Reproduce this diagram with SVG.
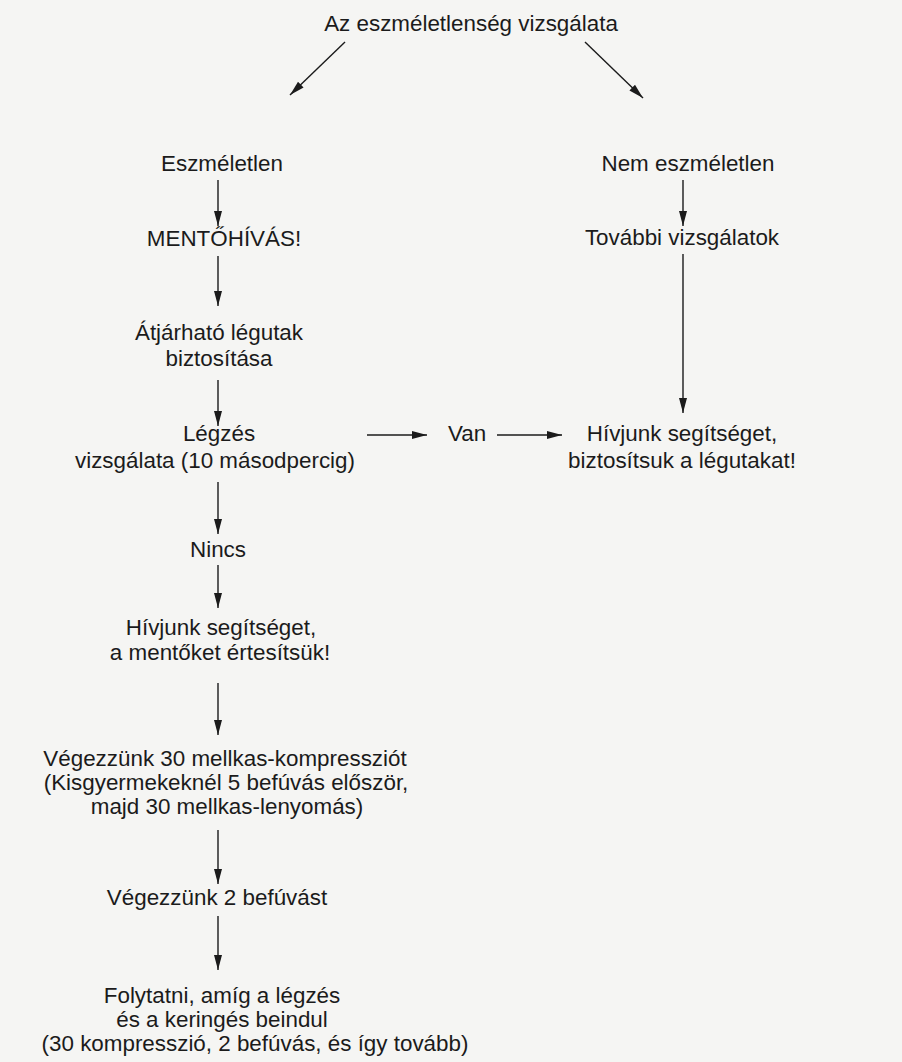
<svg xmlns="http://www.w3.org/2000/svg" width="902" height="1062" viewBox="0 0 902 1062">
  <style>
    .t { font-family: "Liberation Sans", Arial, sans-serif; font-size: 22.4px; fill: #1b1b1b; text-anchor: middle; }
    .c { stroke: #1b1b1b; stroke-width: 1.4; fill: none; marker-end: url(#ah); }
  </style>
  <defs>
    <marker id="ah" markerUnits="userSpaceOnUse" markerWidth="16" markerHeight="10" refX="15" refY="5" orient="auto">
      <path d="M0,1 L15,5 L0,9 Z" fill="#1b1b1b"/>
    </marker>
  </defs>
  <rect x="0" y="0" width="902" height="1062" fill="#f5f5f3"/>

  <g id="connectors">
    <line class="c" x1="345" y1="42" x2="290" y2="95"/>
    <line class="c" x1="585" y1="42" x2="643" y2="98"/>
    <line class="c" x1="218" y1="180" x2="218" y2="226"/>
    <line class="c" x1="683" y1="180" x2="683" y2="226"/>
    <line class="c" x1="218" y1="256" x2="218" y2="306"/>
    <line class="c" x1="683" y1="254" x2="683" y2="413"/>
    <line class="c" x1="218" y1="380" x2="218" y2="426"/>
    <line class="c" x1="367" y1="435" x2="427" y2="435"/>
    <line class="c" x1="497" y1="435" x2="562" y2="435"/>
    <line class="c" x1="218" y1="482" x2="218" y2="534"/>
    <line class="c" x1="218" y1="565" x2="218" y2="608"/>
    <line class="c" x1="218" y1="683" x2="218" y2="735"/>
    <line class="c" x1="218" y1="830" x2="218" y2="884"/>
    <line class="c" x1="218" y1="916" x2="218" y2="970"/>
  </g>

  <g id="n-title"><text class="t" x="471" y="31">Az eszméletlenség vizsgálata</text></g>
  <g id="n-eszmeletlen"><text class="t" x="222" y="171">Eszméletlen</text></g>
  <g id="n-nem-eszmeletlen"><text class="t" x="688" y="171">Nem eszméletlen</text></g>
  <g id="n-mentohivas"><text class="t" x="224" y="246">MENTŐHÍVÁS!</text></g>
  <g id="n-tovabbi"><text class="t" x="682" y="245">További vizsgálatok</text></g>
  <g id="n-legutak"><text class="t" x="219" y="340">Átjárható légutak</text><text class="t" x="219" y="366">biztosítása</text></g>
  <g id="n-legzes"><text class="t" x="219" y="441">Légzés</text><text class="t" x="215" y="468">vizsgálata (10 másodpercig)</text></g>
  <g id="n-van"><text class="t" x="467" y="441">Van</text></g>
  <g id="n-hivjunk-right"><text class="t" x="682" y="441">Hívjunk segítséget,</text><text class="t" x="682" y="468">biztosítsuk a légutakat!</text></g>
  <g id="n-nincs"><text class="t" x="218" y="557">Nincs</text></g>
  <g id="n-hivjunk-left"><text class="t" x="221" y="635">Hívjunk segítséget,</text><text class="t" x="220" y="660">a mentőket értesítsük!</text></g>
  <g id="n-kompresszio"><text class="t" x="225" y="766">Végezzünk 30 mellkas-kompressziót</text><text class="t" x="226" y="790">(Kisgyermekeknél 5 befúvás először,</text><text class="t" x="227" y="814">majd 30 mellkas-lenyomás)</text></g>
  <g id="n-befuvas"><text class="t" x="217" y="905">Végezzünk 2 befúvást</text></g>
  <g id="n-folytatni"><text class="t" x="222" y="1003">Folytatni, amíg a légzés</text><text class="t" x="222" y="1027">és a keringés beindul</text><text class="t" x="255" y="1051">(30 kompresszió, 2 befúvás, és így tovább)</text></g>
</svg>
